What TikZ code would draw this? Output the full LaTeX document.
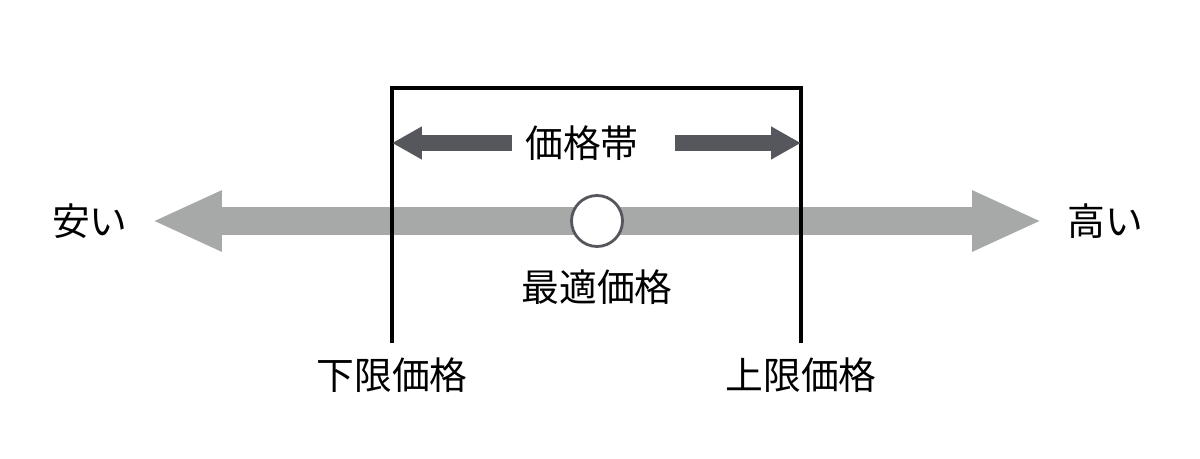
\documentclass[tikz,border=0pt]{standalone}
\usepackage{fontspec}
\setmainfont{Noto Sans CJK JP}
\usetikzlibrary{arrows.meta}
\definecolor{axisgray}{HTML}{A7A8A8}
\definecolor{banddark}{HTML}{55575C}
\tikzset{lbl/.style={font=\fontsize{21.5}{25}\selectfont, inner sep=0pt}}
\begin{document}
\begin{tikzpicture}[x=0.02cm, y=-0.02cm]
  \useasboundingbox (0,0) rectangle (1200,459);
  % axis
  \coordinate (lo) at (152,221);
  \coordinate (hi) at (1042,221);
  \draw[axisgray, line width=0.56cm, {Triangle[length=1.4cm,width=1.12cm]}-{Triangle[length=1.4cm,width=1.12cm]}] (lo) -- (hi);
  \node[lbl] (cheap) at (90,221) {安い};
  \node[lbl] (dear) at (1105,221) {高い};
  % price band bracket
  \coordinate (bl) at (392,343);
  \coordinate (br) at (801,343);
  \draw[line width=2.1pt] (bl) -- (392,88) -- (801,88) -- (br);
  \node[lbl] (band) at (582,143) {価格帯};
  \coordinate (bandl) at (392,143);
  \coordinate (bandr) at (801,143);
  \draw[banddark, line width=0.32cm, -{Triangle[length=0.6cm,width=0.62cm]}] (512,143) -- (bandl);
  \draw[banddark, line width=0.32cm, -{Triangle[length=0.6cm,width=0.62cm]}] (675,143) -- (bandr);
  % optimum
  \node[draw=banddark, fill=white, line width=1.6pt, circle, minimum size=1.02cm, inner sep=0pt] (opt) at (597,221) {};
  \node[lbl] (optl) at (597,287) {最適価格};
  \node[lbl] (lower) at (392,375) {下限価格};
  \node[lbl] (upper) at (801,375) {上限価格};
\end{tikzpicture}
\end{document}
